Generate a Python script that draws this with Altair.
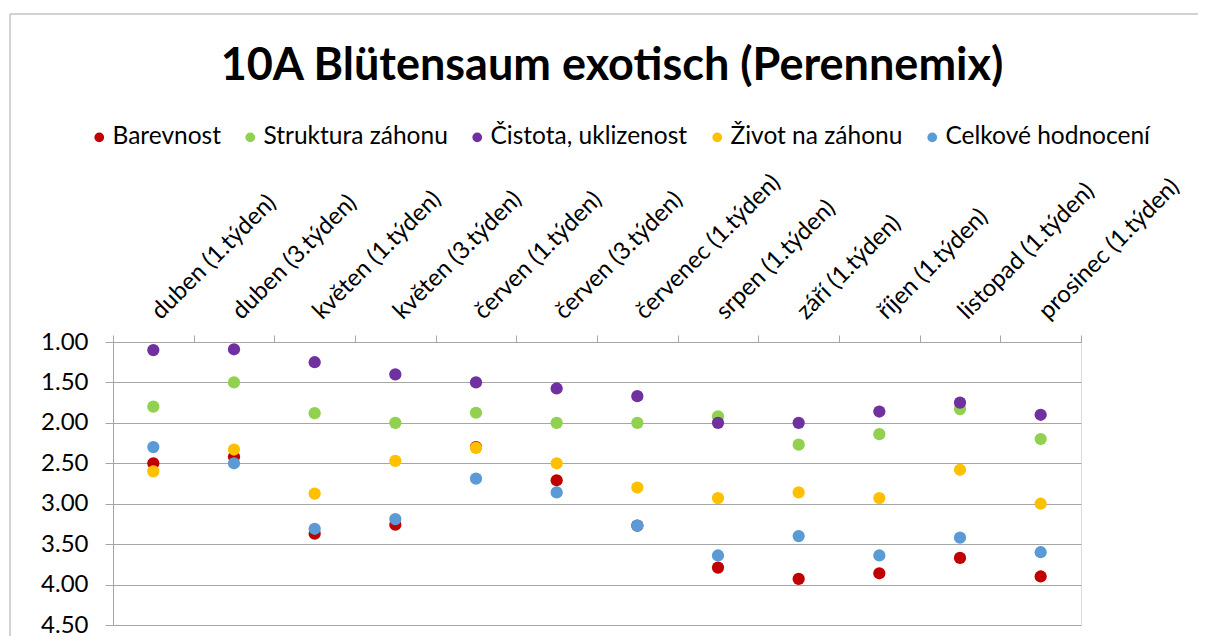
import altair as alt
import pandas as pd

categories = ["duben (1.týden)", "duben (3.týden)", "květen (1.týden)", "květen (3.týden)",
              "červen (1.týden)", "červen (3.týden)", "červenec (1.týden)", "srpen (1.týden)",
              "září (1.týden)", "říjen (1.týden)", "listopad (1.týden)", "prosinec (1.týden)"]
series = ["Barevnost", "Struktura záhonu", "Čistota, uklizenost", "Život na záhonu", "Celkové hodnocení"]
colors = ["#C00000", "#92D050", "#7030A0", "#FFC000", "#5B9BD5"]

barevnost = [2.50, 2.42, 3.37, 3.26, 2.30, 2.71, 3.27, 3.79, 3.93, 3.86, 3.67, 3.90]
struktura = [1.80, 1.50, 1.88, 2.00, 1.875, 2.00, 2.00, 1.92, 2.27, 2.14, 1.83, 2.20]
cistota = [1.10, 1.09, 1.25, 1.40, 1.50, 1.575, 1.67, 2.00, 2.00, 1.86, 1.75, 1.90]
zivot = [2.60, 2.33, 2.875, 2.47, 2.31, 2.50, 2.80, 2.93, 2.86, 2.93, 2.58, 3.00]
celkove = [2.30, 2.50, 3.31, 3.19, 2.69, 2.86, 3.27, 3.64, 3.40, 3.64, 3.42, 3.60]
y_ticks = [1.0, 1.5, 2.0, 2.5, 3.0, 3.5, 4.0, 4.5]

values = [barevnost, struktura, cistota, zivot, celkove]
rows = []
for s, vals in zip(series, values):
    for c, v in zip(categories, vals):
        rows.append({"category": c, "series": s, "value": v})
df = pd.DataFrame(rows)

FONT = "Lato"
GRAY = "#A6A6A6"

points = alt.Chart(df).mark_point(filled=True, size=150, opacity=1).encode(
    x=alt.X("category:N", sort=categories,
            scale=alt.Scale(type="band", domain=categories, paddingInner=0, paddingOuter=0),
            axis=alt.Axis(orient="top", title=None, grid=False, domain=True, domainColor=GRAY,
                          ticks=True, tickColor=GRAY, tickSize=7, tickBand="extent",
                          labelAngle=315, labelAlign="left", labelBaseline="alphabetic",
                          labelPadding=15, labelOffset=7, labelFont=FONT, labelFontSize=24,
                          labelColor="black", labelLimit=0, labelOverlap=False)),
    y=alt.Y("value:Q",
            scale=alt.Scale(domain=[1, 4.5], reverse=True, nice=False, zero=False),
            axis=alt.Axis(values=y_ticks, format=".2f", title=None, grid=True, gridColor=GRAY,
                          domain=True, domainColor=GRAY, ticks=True, tickColor=GRAY, tickSize=8,
                          labelPadding=17, labelFont=FONT, labelFontSize=24, labelColor="black")),
    color=alt.Color("series:N", scale=alt.Scale(domain=series, range=colors),
                    legend=alt.Legend(orient="none", legendX=-26, legendY=-217, direction="horizontal",
                                      title=None, symbolType="circle", symbolSize=95,
                                      symbolStrokeWidth=0, symbolOpacity=1,
                                      labelFont=FONT, labelFontSize=24.5, labelColor="black",
                                      labelOffset=1, columnPadding=17, labelLimit=0)),
)

frame = alt.Chart(pd.DataFrame({"frame": [0]})).mark_rect(
    fillOpacity=0, stroke=GRAY, strokeWidth=1
).encode(x=alt.value(-103), y=alt.value(-328), x2=alt.value(1200), y2=alt.value(400))

chart = alt.layer(frame, points).properties(
    width=968, height=283,
    title=alt.TitleParams("10A Blütensaum exotisch (Perennemix)", font=FONT, fontSize=45,
                          fontWeight="bold", color="black", anchor="middle", dx=15,
                          baseline="alphabetic", offset=0, dy=111),
    autosize=alt.AutoSizeParams(type="none"),
    padding={"left": 105, "top": 334, "right": 117, "bottom": 11},
).configure_view(stroke=None).configure(background="white")

chart.save("out.html", embed_options={"renderer": "svg", "actions": False})
